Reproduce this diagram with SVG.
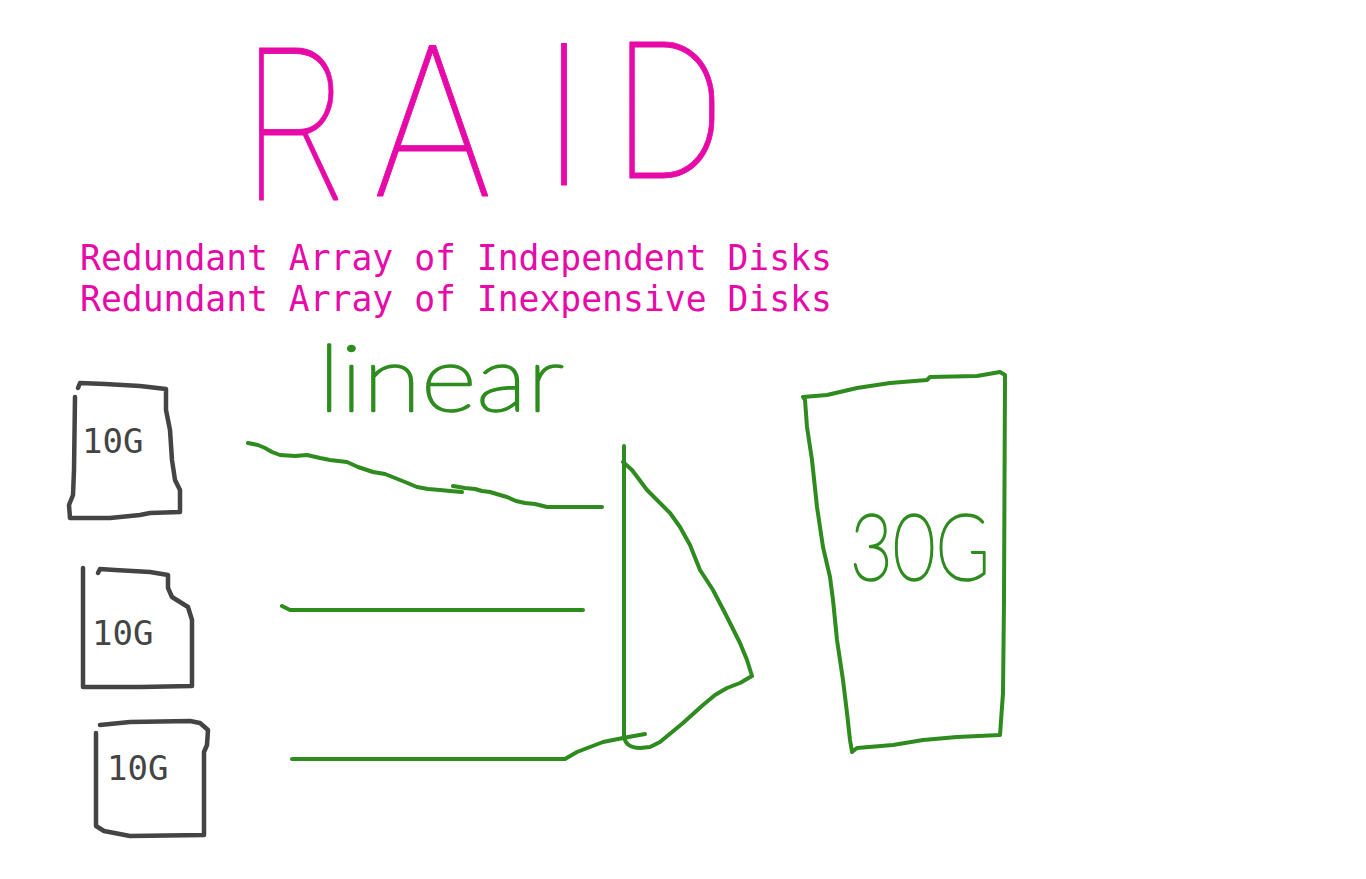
<svg xmlns="http://www.w3.org/2000/svg" width="1366" height="879" viewBox="0 0 1366 879">
<style>
.gr{fill:none;stroke:#2e8b1e;stroke-width:4;stroke-linecap:round;stroke-linejoin:round}
.gy{fill:none;stroke:#444;stroke-width:4.5;stroke-linecap:round;stroke-linejoin:round}
.mono{font-family:"DejaVu Sans Mono","Liberation Mono",monospace}
.sub{fill:#e60aa8;font-size:34.7px}
.lab{fill:#444;font-size:34px}
.hand{font-family:Lato,"Open Sans","DejaVu Sans",sans-serif;font-weight:100}
.raid{font-family:Roboto,Lato,sans-serif;font-weight:100;fill:#e60aa8;stroke:#e60aa8;stroke-width:0.8;stroke-linejoin:round}
.gh{fill:#2e8b1e;stroke:#2e8b1e;stroke-width:2.5;stroke-linejoin:round;font-size:92px}
</style>
<rect width="1366" height="879" fill="#fff"/>
<g id="title" class="raid">
<text transform="translate(244,200) scale(0.75,1)" font-size="214">R</text>
<text transform="translate(374,196) scale(0.93,1)" font-size="211">A</text>
<text transform="translate(538,185)" font-size="199">I</text>
<text transform="translate(613,178) scale(0.9,1)" font-size="191">D</text>
</g>
<g id="subtitle" class="mono sub">
<text x="80" y="270">Redundant Array of Independent Disks</text>
<text x="80" y="311">Redundant Array of Inexpensive Disks</text>
</g>
<g id="disk1">
<path class="gy" d="M75,397 L74,470 L73,495 L69,505 L70,518 L110,518 L140,515 L150,513 L180,512 L180,490 L175,480 L172,460 L170,430 L166,410 L166,389 L140,386 L105,384 L80,383 L78,388"/>
<text class="mono lab" x="82" y="453">10G</text>
</g>
<g id="disk2">
<path class="gy" d="M83,568 L83,687 L140,687 L192,686 L192,620 L188,607 L180,602 L172,597 L168,588 L168,575 L150,572 L115,570 L100,569 L98,573"/>
<text class="mono lab" x="92" y="645">10G</text>
</g>
<g id="disk3">
<path class="gy" d="M96,733 L96,826 L104,831 L130,836 L204,835 L204,752 L207,745 L208,730 L200,723 L190,721 L130,722 L100,725"/>
<text class="mono lab" x="107" y="780">10G</text>
</g>
<g id="connectors">
<path class="gr" d="M248,443 L258,445 L265,448 L272,452 L280,455 L295,456 L307,455 L320,458 L330,460 L347,462 L358,467 L373,472 L385,474 L395,478 L405,482 L417,487 L428,489 L440,490 L450,491 L462,492"/>
<path class="gr" d="M453,486 L465,488 L475,489 L482,491 L490,492 L500,495 L507,497 L516,501 L525,503 L535,504 L547,507 L602,507"/>
<path class="gr" d="M282,606 L290,610 L583,610"/>
<path class="gr" d="M292,759 L565,759 L577,752 L603,742 L623,738 L645,734"/>
</g>
<g id="combiner">
<path class="gr" d="M624,446 L624,737 Q626,748 640,748 L650,747 L660,742 L683,723 L703,705 L715,695 L727,688 L740,683 L752,676 L747,660 L740,643 L727,617 L713,590 L700,570 L690,545 L680,527 L670,513 L647,490 L632,470 L623,462"/>
</g>
<g id="linear">
<text class="hand gh" x="318" y="411" textLength="246" lengthAdjust="spacingAndGlyphs">linear</text>
</g>
<g id="volume30G">
<path class="gr" d="M805,400 L803,397 L827,395 L857,388 L890,383 L927,380 L930,377 L977,376 L1000,372 L1005,375 L1004,600 L1003,693 L1000,735 L957,737 L923,740 L893,745 L857,748 L852,752 L850,740 L847,713 L843,680 L837,640 L833,600 L830,577 L823,547 L817,507 L812,460 L807,427 L805,400"/>
<text class="hand gh" x="850" y="580" textLength="140" lengthAdjust="spacingAndGlyphs">30G</text>
</g>
</svg>
